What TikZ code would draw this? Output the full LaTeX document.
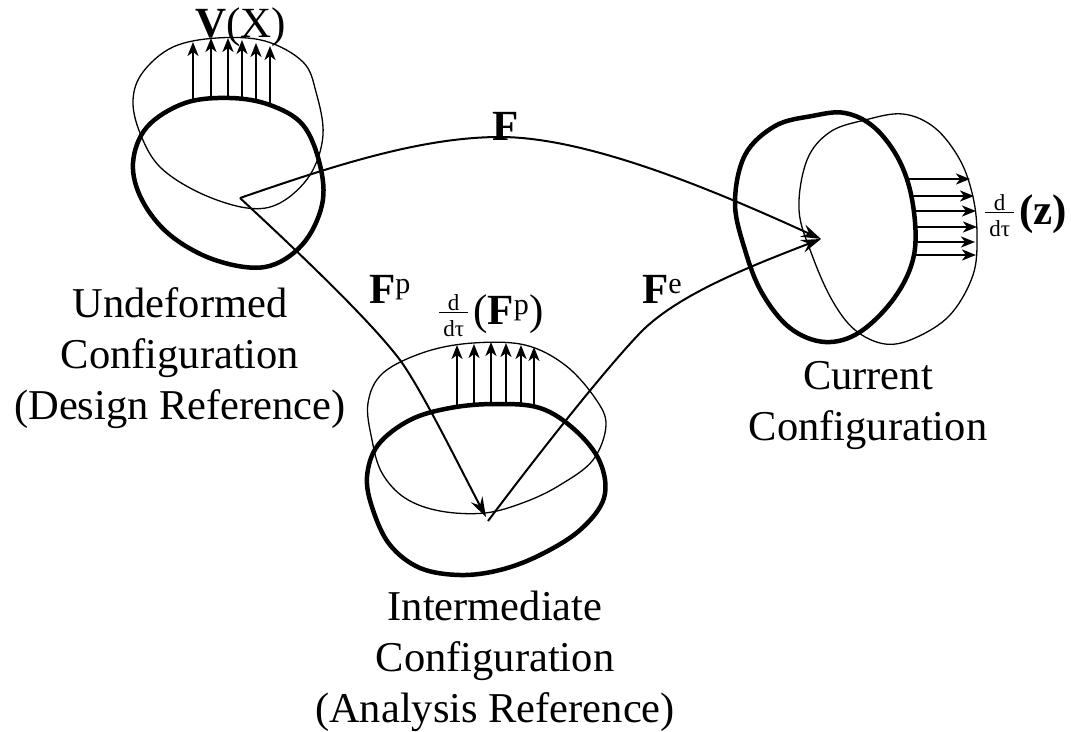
\documentclass[tikz,border=0pt]{standalone}
\usepackage{fontspec}
\setmainfont{Liberation Serif}
\usetikzlibrary{arrows.meta}
\tikzset{
  thickblob/.style={line width=4.5pt, line join=round},
  thinblob/.style={line width=1.3pt},
  field/.style={-{Stealth[length=14pt,width=11pt,inset=4pt]}, line width=2pt},
  map/.style={-{Stealth[length=20pt,width=13pt,inset=7pt]}, line width=2pt},
  caption/.style={align=center, font=\fontsize{42.5}{51}\selectfont, inner sep=0pt},
  symb/.style={anchor=base west, font=\fontsize{43}{43}\selectfont, inner sep=0pt},
}
\newcommand{\ddtau}{\hbox to 29pt{\rlap{\rule[11pt]{29pt}{1.3pt}}\rlap{\hbox to 29pt{\hss\raisebox{14pt}{\fontsize{23}{23}\selectfont d}\hss}}\hss\raisebox{-12pt}{\fontsize{23}{23}\selectfont d\char"03C4}\hss}}
\begin{document}
\begin{tikzpicture}[x=1pt,y=-1pt]
\useasboundingbox (0,0) rectangle (1071,731);

%points of the maps
\coordinate (O) at (240,198);
\coordinate (I) at (488,521);
\coordinate (Itip) at (486,517);
\coordinate (C) at (821,239);
\coordinate (Ftop) at (500,137);
\coordinate (Fpmid) at (400,360);
\coordinate (Femid) at (640,333);

%undeformed
\draw[thickblob] plot[smooth cycle, tension=0.6] coordinates {(133,163) (147,127) (185,103) (230,98) (270,105) (303,125) (320,165) (322,205) (302,245) (265,267) (215,260) (170,235) (142,200)};
\draw[thinblob] plot[smooth cycle, tension=0.6] coordinates {(133,100) (143,72) (173,47) (217,38) (265,41) (303,62) (316,92) (323,135) (310,175) (280,203) (247,208) (200,193) (160,167) (140,133)};

%intermediate
\draw[thickblob] plot[smooth cycle, tension=0.6] coordinates {(367,477) (378,445) (410,420) (450,408) (495,404) (540,408) (575,430) (600,462) (604,498) (580,530) (540,555) (500,570) (460,575) (420,568) (390,545) (373,510)};
\draw[thinblob] plot[smooth cycle, tension=0.6] coordinates {(368,403) (383,373) (425,352) (473,343) (525,345) (565,365) (595,398) (606,425) (593,460) (560,485) (525,502) (485,513) (440,511) (405,498) (382,473) (372,440)};

%current
\draw[thickblob] plot[smooth cycle, tension=0.6] coordinates {(735,203) (745,155) (775,126) (812,116) (845,113) (875,128) (900,162) (913,205) (914,255) (895,297) (860,332) (825,342) (790,328) (762,293) (745,250)};
\draw[thinblob] plot[smooth cycle, tension=0.6] coordinates {(799,210) (807,160) (830,132) (865,120) (903,114) (935,128) (960,160) (973,197) (977,235) (973,275) (950,315) (915,338) (885,344) (855,330) (832,300) (812,255)};

%vector fields
\foreach \x/\ya/\yb in {193/100/42, 211/98/38, 228/98/38, 242/100/40, 256/101/43, 270/105/46}
  \draw[field] (\x,\ya) -- (\x,\yb);
\foreach \x/\ya/\yb in {457/405/345, 474/404/344, 491/404/342, 506/404/343, 521/405/345, 534/406/347}
  \draw[field] (\x,\ya) -- (\x,\yb);
\foreach \y/\xa/\xb in {179/908/970, 196/912/974, 211/913/976, 227/913/977, 242/913/975, 255/913/976}
  \draw[field] (\xa,\y) -- (\xb,\y);

%maps
\draw[map] (O) .. controls (330,167) and (420,137) .. (Ftop) .. controls (590,137) and (720,193) .. (C);
\draw[map] (O) .. controls (295,249) and (370,320) .. (Fpmid) .. controls (422,390) and (460,468) .. (Itip);
\draw[map] (I) .. controls (530,465) and (600,375) .. (Femid) .. controls (675,297) and (740,270) .. (C);

%labels
\node[symb] (lV) at (195,37) {\textbf{V}(X)};
\node[symb] (lF) at (492,140) {\textbf{F}};
\node[symb] (lFp) at (369,303) {\textbf{F}\textsuperscript{p}};
\node[symb] (lFe) at (642,303) {\textbf{F}\textsuperscript{e}};
\node[symb] (lFdot) at (439,324) {\ddtau\kern5pt(\textbf{F}\textsuperscript{p})};
\node[symb] (lz) at (985,224) {\ddtau\kern5pt\textbf{(z)}};

\node[caption] (undeformed) at (180,358) {Undeformed\\Configuration\\(Design Reference)};
\node[caption] (current) at (868,405.5) {Current\\Configuration};
\node[caption] (intermediate) at (495,661) {Intermediate\\Configuration\\(Analysis Reference)};
\end{tikzpicture}
\end{document}
